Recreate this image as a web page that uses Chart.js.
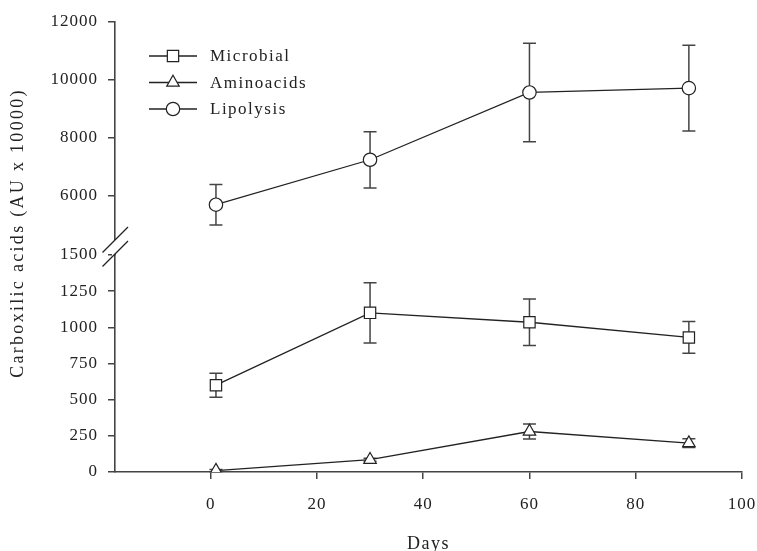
<!DOCTYPE html>
<html>
<head>
<meta charset="utf-8">
<title>Carboxilic acids</title>
<script src="https://cdn.jsdelivr.net/npm/chart.js@4.4.0/dist/chart.umd.min.js"></script>
<style>
  html, body { margin: 0; padding: 0; background: #fff; }
  #wrap { position: relative; width: 757px; height: 551px; }
</style>
</head>
<body>
<div id="wrap"><canvas id="chart"></canvas></div>
<script>
// --- Data ---
const days = [1, 30, 60, 90];

const microbial = [600, 1100, 1035, 930];
const microbialErr = [83, 208, 160, 110];

const aminoacids = [10, 85, 280, 200];
const aminoacidsErr = [8, 10, 52, 30];

const lipolysis = [5700, 7250, 9570, 9720];
const lipolysisErr = [700, 970, 1700, 1480];

const xTicks = [0, 20, 40, 60, 80, 100];
const lowerTicks = [0, 250, 500, 750, 1000, 1250, 1500];
const upperTicks = [6000, 8000, 10000, 12000];

const seriesNames = ['Microbial', 'Aminoacids', 'Lipolysis'];
const seriesErrors = [microbialErr, aminoacidsErr, lipolysisErr];

const INK = '#222';
const AXIS = '#444';
const FONT = '"Liberation Serif", "Times New Roman", serif';

Chart.defaults.font.family = FONT;
Chart.defaults.font.size = 17;
Chart.defaults.color = INK;

const toPoints = (values) => days.map((d, i) => ({ x: d, y: values[i] }));

function series(label, values, style, radius, axis) {
  return {
    label: label,
    data: toPoints(values),
    yAxisID: axis,
    borderColor: INK,
    borderWidth: 1.3,
    pointStyle: style,
    pointRadius: radius,
    pointBackgroundColor: '#fff',
    pointBorderColor: INK,
    pointBorderWidth: 1.2,
    tension: 0
  };
}

// the serif labels are set a little loose
const spacing = {
  id: 'spacing',
  beforeLayout(chart) { chart.ctx.letterSpacing = '1px'; },
  beforeDraw(chart) { chart.ctx.letterSpacing = '1px'; }
};

// vertical error bars with caps, drawn under the markers
const errorBars = {
  id: 'errorBars',
  beforeDatasetsDraw(chart) {
    const ctx = chart.ctx;
    ctx.save();
    ctx.strokeStyle = AXIS;
    ctx.lineWidth = 1.5;
    chart.data.datasets.forEach((ds, i) => {
      const meta = chart.getDatasetMeta(i);
      const scale = chart.scales[ds.yAxisID];
      const err = seriesErrors[i];
      meta.data.forEach((pt, j) => {
        const v = ds.data[j].y;
        const top = scale.getPixelForValue(v + err[j]);
        const bot = scale.getPixelForValue(v - err[j]);
        ctx.beginPath();
        ctx.moveTo(pt.x, top);
        ctx.lineTo(pt.x, bot);
        ctx.moveTo(pt.x - 6.5, top);
        ctx.lineTo(pt.x + 6.5, top);
        ctx.moveTo(pt.x - 6.5, bot);
        ctx.lineTo(pt.x + 6.5, bot);
        ctx.stroke();
      });
    });
    ctx.restore();
  }
};

// legend box in the upper left corner of the plot
const insetLegend = {
  id: 'insetLegend',
  afterDraw(chart) {
    const ctx = chart.ctx;
    const x0 = chart.chartArea.left + 34;
    const y0 = chart.chartArea.top + 34;
    ctx.save();
    chart.data.datasets.forEach((ds, i) => {
      const y = y0 + i * 26.5;
      ctx.strokeStyle = INK;
      ctx.lineWidth = 1.3;
      ctx.beginPath();
      ctx.moveTo(x0, y);
      ctx.lineTo(x0 + 48, y);
      ctx.stroke();
      ctx.fillStyle = '#fff';
      ctx.strokeStyle = INK;
      ctx.lineWidth = 1.2;
      Chart.helpers.drawPoint(ctx, {
        pointStyle: ds.pointStyle,
        radius: ds.pointRadius,
        borderWidth: 1.2,
        rotation: 0
      }, x0 + 24, y);
      ctx.fillStyle = INK;
      ctx.font = '17px ' + FONT;
      ctx.letterSpacing = '1.5px';
      ctx.textBaseline = 'middle';
      ctx.textAlign = 'left';
      ctx.fillText(seriesNames[i], x0 + 61, y + 1);
    });
    ctx.restore();
  }
};

// axis titles and the break marks between the two y ranges
const axisDecor = {
  id: 'axisDecor',
  afterDraw(chart) {
    const ctx = chart.ctx;
    const area = chart.chartArea;
    const ax = area.left;
    const b = chart.scales.y.top;
    ctx.save();

    ctx.fillStyle = '#fff';
    ctx.beginPath();
    ctx.moveTo(ax - 3, b - 15 + 3);
    ctx.lineTo(ax + 3, b - 15 - 3);
    ctx.lineTo(ax + 3, b - 1 - 3);
    ctx.lineTo(ax - 3, b - 1 + 3);
    ctx.closePath();
    ctx.fill();

    ctx.strokeStyle = INK;
    ctx.lineWidth = 1.3;
    [b - 15, b - 1].forEach((yc) => {
      ctx.beginPath();
      ctx.moveTo(ax - 12.5, yc + 12.5);
      ctx.lineTo(ax + 13, yc - 13);
      ctx.stroke();
    });

    ctx.fillStyle = INK;
    ctx.font = '18px ' + FONT;
    ctx.textAlign = 'center';
    ctx.textBaseline = 'middle';
    ctx.letterSpacing = '1.5px';
    ctx.fillText('Days', (area.left + area.right) / 2, 544);

    ctx.letterSpacing = '2.3px';
    ctx.translate(18, 233);
    ctx.rotate(-Math.PI / 2);
    ctx.fillText('Carboxilic acids (AU x 10000)', 0, 0);
    ctx.restore();
  }
};

const axisLook = {
  grid: { display: true, drawOnChartArea: false, drawTicks: true, tickLength: 7, color: AXIS, lineWidth: 1.5 },
  border: { display: true, color: AXIS, width: 1.6 }
};

const fixedTicks = (values) => (scale) => {
  scale.ticks = values.map((v) => ({ value: v }));
};

const plainLabel = (v) => String(v);

new Chart(document.getElementById('chart'), {
  type: 'line',
  data: {
    datasets: [
      series('Microbial', microbial, 'rect', 8, 'y'),
      series('Aminoacids', aminoacids, 'triangle', 7.2, 'y'),
      series('Lipolysis', lipolysis, 'circle', 6.7, 'y2')
    ]
  },
  options: {
    responsive: true,
    maintainAspectRatio: false,
    animation: false,
    layout: { padding: { left: 0, right: 15, top: 22, bottom: 0 } },
    plugins: {
      legend: { display: false },
      tooltip: { enabled: false }
    },
    scales: {
      x: {
        type: 'linear',
        min: -18,
        max: 100,
        afterBuildTicks: fixedTicks(xTicks),
        afterFit: (scale) => {
          scale.height = 79;
          scale.paddingLeft = 0;
          scale.paddingRight = 0;
        },
        ticks: { padding: 15, autoSkip: false, maxRotation: 0, callback: plainLabel },
        ...axisLook
      },
      y: {
        type: 'linear',
        position: 'left',
        stack: 'carboxilic',
        stackWeight: 217,
        min: 0,
        max: 1500,
        afterBuildTicks: fixedTicks(lowerTicks),
        afterFit: (scale) => {
          scale.width = 115;
          scale.paddingTop = 0;
          scale.paddingBottom = 0;
        },
        ticks: { padding: 10, autoSkip: false, callback: plainLabel },
        ...axisLook
      },
      y2: {
        type: 'linear',
        position: 'left',
        stack: 'carboxilic',
        stackWeight: 233,
        min: 3966,
        max: 12000,
        afterBuildTicks: fixedTicks(upperTicks),
        afterFit: (scale) => {
          scale.width = 115;
          scale.paddingTop = 0;
          scale.paddingBottom = 0;
        },
        ticks: { padding: 10, autoSkip: false, callback: plainLabel },
        ...axisLook
      }
    }
  },
  plugins: [spacing, errorBars, insetLegend, axisDecor]
});
</script>
</body>
</html>
